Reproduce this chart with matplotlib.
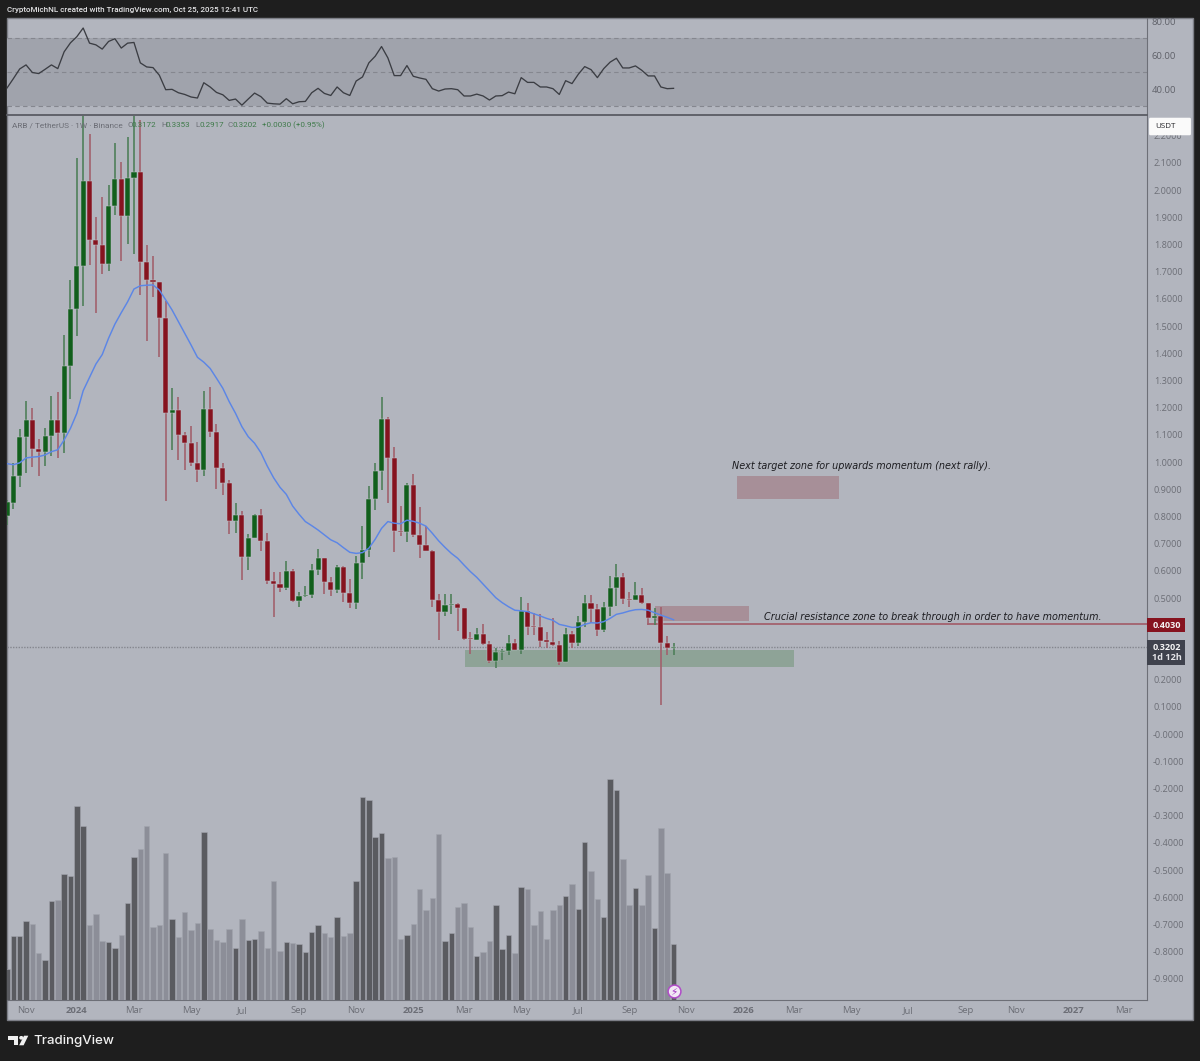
import matplotlib
matplotlib.use("Agg")
import matplotlib.pyplot as plt
from matplotlib.patches import Rectangle, FancyBboxPatch, Circle, Polygon

W, H = 1200, 1061

# weekly candles
opens = [.801, .850, .949, 1.091, 1.154, 1.047, 1.037, 1.096, 1.154, 1.105,
         1.354, 1.561, 1.721, 2.032, 1.816, 1.798, 1.729, 1.942, 2.040, 1.904,
         2.043, 2.067, 1.734, 1.670, 1.661, 1.528, 1.179, 1.190, 1.099, 1.070,
         .996, .972, 1.195, 1.111, .979, .923, .782, .804, .650, .722,
         .804, .711, .562, .551, .536, .599, .489, .507, .510, .602,
         .646, .559, .528, .614, .519, .483, .629, .675, .863, .968,
         1.157, 1.016, .746, .743, .917, .732, .696, .673, .493, .449,
         .474, .478, .463, .352, .347, .368, .331, .267, .301, .305,
         .336, .309, .452, .396, .392, .344, .340, .326, .265, .368,
         .333, .411, .483, .460, .381, .466, .537, .578, .495, .493,
         .512, .480, .428, .434, .335, .3172]
closes = [.853, .949, 1.091, 1.154, 1.047, 1.037, 1.096, 1.154, 1.105, 1.354,
          1.561, 1.721, 2.032, 1.816, 1.798, 1.729, 1.942, 2.040, 1.904, 2.043,
          2.067, 1.734, 1.670, 1.661, 1.528, 1.179, 1.190, 1.099, 1.070, .996,
          .972, 1.195, 1.111, .979, .923, .782, .804, .650, .722, .804,
          .711, .562, .551, .536, .599, .489, .507, .510, .602, .646,
          .559, .528, .614, .519, .483, .629, .675, .863, .968, 1.157,
          1.016, .746, .743, .917, .732, .696, .673, .493, .449, .474,
          .478, .463, .348, .348, .368, .331, .267, .301, .305, .336,
          .309, .452, .393, .392, .342, .339, .326, .265, .368, .333,
          .411, .483, .460, .381, .466, .537, .578, .495, .493, .512,
          .480, .428, .434, .335, .317, .3202]
highs = [.860, .997, 1.120, 1.224, 1.200, 1.083, 1.126, 1.244, 1.258, 1.466,
         1.669, 2.118, 2.272, 2.206, 1.900, 1.973, 2.018, 2.172, 2.102, 2.196,
         2.272, 2.257, 1.797, 1.757, 1.662, 1.593, 1.271, 1.238, 1.111, 1.132,
         1.072, 1.261, 1.276, 1.140, .997, .934, .848, .819, .735, .808,
         .827, .738, .597, .597, .636, .607, .523, .544, .624, .680,
         .647, .577, .621, .616, .569, .654, .765, .912, .997, 1.238,
         1.164, 1.054, .838, .924, .956, .835, .765, .678, .515, .514,
         .516, .480, .465, .374, .389, .403, .343, .316, .314, .363,
         .348, .505, .480, .444, .441, .374, .426, .343, .390, .380,
         .434, .511, .511, .478, .485, .581, .626, .591, .521, .558,
         .536, .483, .462, .466, .361, .3353]
lows = [.768, .828, .908, .961, .982, .947, .986, 1.023, 1.014, 1.034,
        1.233, 1.464, 1.574, 1.725, 1.547, 1.692, 1.702, 1.907, 1.740, 1.803,
        1.766, 1.614, 1.446, 1.608, 1.385, .855, 1.043, 1.006, .969, .986,
        .925, .950, 1.093, .901, .879, .736, .740, .566, .604, .721,
        .674, .553, .431, .521, .528, .484, .467, .503, .500, .585,
        .516, .506, .519, .484, .462, .460, .569, .650, .824, .897,
        .850, .669, .728, .706, .723, .647, .671, .467, .347, .435,
        .440, .380, .347, .295, .344, .328, .261, .243, .272, .292,
        .307, .294, .365, .364, .321, .317, .324, .254, .263, .315,
        .325, .392, .409, .361, .374, .434, .472, .479, .468, .492,
        .478, .401, .401, .105, .290, .2917]

# moving average on the price pane
ema = [.994, .990, .997, 1.015, 1.018, 1.020, 1.026, 1.038, 1.045, 1.081,
       1.124, 1.179, 1.262, 1.311, 1.360, 1.395, 1.455, 1.507, 1.549, 1.589,
       1.636, 1.648, 1.650, 1.651, 1.632, 1.596, 1.559, 1.516, 1.473, 1.430,
       1.385, 1.367, 1.344, 1.308, 1.271, 1.222, 1.179, 1.130, 1.093, 1.069,
       1.034, .985, .942, .907, .881, .838, .808, .781, .766, .750,
       .732, .714, .703, .685, .668, .664, .667, .683, .716, .756,
       .781, .775, .773, .786, .782, .775, .764, .738, .710, .686,
       .664, .646, .621, .597, .576, .551, .526, .501, .483, .468,
       .455, .453, .450, .442, .434, .425, .418, .403, .398, .392,
       .393, .403, .409, .408, .413, .425, .440, .445, .452, .457,
       .458, .455, .446, .437, .429, .420]

volumes = [30.7, 63.7, 63.7, 79, 75.7, 47, 40, 99, 99.7, 125.7,
           123.7, 193.3, 174, 74.3, 85.3, 59, 58, 52, 65, 97,
           142.3, 150.3, 174, 72.7, 75, 146.3, 80.3, 62.3, 87.7, 69.3,
           77, 168, 70.3, 59.3, 57.3, 70.3, 51.3, 81, 59.3, 61,
           69, 51.3, 119, 49, 57.3, 56.3, 55.7, 48, 67.3, 74.3,
           67, 63, 83, 63.7, 66.3, 118.3, 202.7, 200, 162.7, 166.7,
           141.7, 142.3, 60.3, 65, 75.7, 111, 89.7, 101.7, 166, 59,
           66.3, 93, 97, 73, 43.3, 48, 58.3, 94.3, 51, 64.3,
           46.7, 113, 110.3, 75, 88.3, 61, 89.7, 95, 103.7, 115.7,
           90.3, 157.3, 129, 100.3, 83, 220.7, 210, 141, 95, 111.7,
           95, 125, 72, 172, 126.3, 56]

rsi = [40.8, 46.3, 52.0, 54.4, 49.9, 49.3, 51.8, 54.4, 52.2, 62.1,
       67.4, 71.0, 76.1, 67.2, 66.2, 63.7, 68.2, 69.8, 64.3, 67.2,
       67.6, 55.6, 53.2, 52.8, 48.3, 39.8, 40.0, 38.0, 37.0, 35.5,
       34.9, 43.9, 41.4, 38.2, 36.8, 33.5, 34.3, 30.7, 34.3, 37.8,
       35.7, 31.9, 31.5, 31.3, 34.5, 31.5, 32.7, 32.9, 38.0, 40.6,
       37.6, 36.4, 41.4, 38.0, 36.4, 44.9, 47.3, 55.6, 59.5, 65.2,
       58.5, 48.1, 48.1, 54.0, 47.7, 46.7, 45.9, 40.4, 39.0, 40.2,
       40.4, 39.8, 36.1, 36.1, 37.2, 36.1, 33.7, 36.1, 36.3, 38.4,
       37.4, 46.9, 44.1, 44.1, 41.4, 41.4, 40.4, 37.0, 45.1, 43.4,
       48.9, 53.4, 51.6, 46.9, 52.2, 56.0, 58.3, 52.6, 52.6, 53.8,
       51.2, 47.9, 47.9, 41.4, 40.4, 40.6]

month_pos = [3, 11, 20, 29, 37, 46, 55, 64, 72, 81, 90, 98, 107, 116, 124, 133, 142, 151, 159, 168, 176]
month_labels = ["Nov", "2024", "Mar", "May", "Jul", "Sep", "Nov", "2025", "Mar", "May", "Jul",
                "Sep", "Nov", "2026", "Mar", "May", "Jul", "Sep", "Nov", "2027", "Mar"]
price_ticks = [2.2, 2.1, 2.0, 1.9, 1.8, 1.7, 1.6, 1.5, 1.4, 1.3, 1.2, 1.1, 1.0, .9, .8, .7, .6, .5,
               .2, .1, 0.0, -.1, -.2, -.3, -.4, -.5, -.6, -.7, -.8, -.9]
rsi_ticks = [80, 60, 40]

BG = "#1e1e1e"
PANEL = "#b2b5be"
UP = "#115f1c"
DOWN = "#86131f"
GREY_TXT = "#6c6e76"

plt.rcParams["font.family"] = ["Open Sans", "DejaVu Sans"]
plt.rcParams["font.size"] = 6.6

fig = plt.figure(figsize=(W / 100, H / 100), dpi=100, facecolor=BG)


def box(x0, y0, x1, y1):
    return [x0 / W, 1 - y1 / H, (x1 - x0) / W, (y1 - y0) / H]


def label(x, y, s, **kw):
    kw.setdefault("va", "center")
    return fig.text(x / W, 1 - y / H, s, **kw)


def rect(x0, y0, x1, y1, **kw):
    r = Rectangle((x0 / W, 1 - y1 / H), (x1 - x0) / W, (y1 - y0) / H, transform=fig.transFigure, **kw)
    fig.add_artist(r)
    return r


rect(7, 18, 1193, 1020, facecolor=PANEL, edgecolor="#7d7f87", linewidth=1, zorder=-2)

xs = list(range(len(opens)))
xlim = (0, 179.5)

# rsi pane
ax_rsi = fig.add_axes(box(7, 18, 1146.5, 114.5), facecolor="none")
ax_rsi.set_xlim(xlim)
ax_rsi.set_ylim(25.2, 82.0)
ax_rsi.axhspan(30, 70, color="#a0a3ac", lw=0, zorder=1)
for v in [70, 50, 30]:
    ax_rsi.axhline(v, color="#85878f", lw=0.8, ls=(0, (4, 3)), zorder=2)
ax_rsi.plot(xs, rsi, color="#3b3d43", lw=0.95, zorder=3)
ax_rsi.set_xticks([])
ax_rsi.yaxis.tick_right()
ax_rsi.set_yticks(rsi_ticks)
ax_rsi.set_yticklabels(["%.2f" % v for v in rsi_ticks], ha="center", color="#5f6169", fontsize=6.8)
ax_rsi.tick_params(axis="y", length=0, pad=12.5)
for s in ["top", "left", "bottom"]:
    ax_rsi.spines[s].set_visible(False)
ax_rsi.spines["right"].set_color("#6d6f77")

# price pane
ax = fig.add_axes(box(7, 114.5, 1146.5, 999.5), facecolor="none")
ax.set_xlim(xlim)
ax.set_ylim(-.9761, 2.2776)

# zones
ax.add_patch(Rectangle((115, .865), 16, .0835, facecolor="#a78f98", edgecolor="none", zorder=1))
ax.add_patch(Rectangle((102, .4165), 14.9, .054, facecolor="#a78f98", edgecolor="none", zorder=1))
ax.add_patch(Rectangle((72.2, .245), 51.8, .065, facecolor="#8ea397", edgecolor="none", zorder=1))
ax.axhline(.3202, color="#84868e", lw=1, ls=(0, (1, 1)), zorder=1.5)
ax.plot([101, xlim[1]], [.403, .403], color="#a1525f", lw=1.1, zorder=1.5)

# candles
colors = [UP if c >= o else DOWN for o, c in zip(opens, closes)]
wick_colors = ["#4f7f5a" if c == UP else "#a2616d" for c in colors]
bottoms = [min(o, c) for o, c in zip(opens, closes)]
heights = [max(abs(c - o), .004) for o, c in zip(opens, closes)]
ax.vlines(xs, lows, highs, colors=wick_colors, lw=1.2, zorder=2)
ax.bar(xs, heights, bottom=bottoms, width=.8, color=colors, edgecolor="#bfc1c8", linewidth=.35, zorder=3)
ax.plot(xs, ema, color="#5c86e6", lw=1.05, zorder=4)

ax.yaxis.tick_right()
ax.set_yticks(price_ticks)
ax.set_yticklabels(["-0.0000" if v == 0 else "%.4f" % v for v in price_ticks], ha="center", color=GREY_TXT)
ax.tick_params(axis="y", length=0, pad=15.5)
ax.set_xticks(month_pos)
ax.set_xticklabels(month_labels, color=GREY_TXT, fontsize=6.8)
for t in ax.get_xticklabels():
    if t.get_text().isdigit():
        t.set_fontweight("bold")
ax.tick_params(axis="x", length=0, pad=4.5)
ax.spines["left"].set_visible(False)
ax.spines["top"].set_color("#5a5c64")
ax.spines["top"].set_linewidth(1.3)
ax.spines["right"].set_color("#6d6f77")
ax.spines["bottom"].set_color("#6d6f77")

# volume overlay, same frame as the price pane
ax_vol = fig.add_axes(box(7, 114.5, 1146.5, 999.5), facecolor="none")
ax_vol.set_xlim(xlim)
ax_vol.set_ylim(0, 885)
ax_vol.axis("off")
vol_colors = ["#5a5b60" if c == UP else "#8c8e98" for c in colors]
ax_vol.bar(xs, volumes, width=.86, color=vol_colors, edgecolor="#a3a5ae", linewidth=.4)
ax_vol.scatter([xs[-1]], [8.5], s=85, facecolor="#f2e8f5", edgecolor="#b04bc8", linewidth=1.1, zorder=5, clip_on=False)
ax_vol.text(xs[-1], 8.2, "\u26a1", ha="center", va="center", color="#a030c0", fontsize=7.5,
            family="DejaVu Sans", zorder=6)

# header and legend
small = dict(family=["Roboto", "DejaVu Sans"], fontsize=5.8)
label(7, 10, "CryptoMichNL created with TradingView.com, Oct 25, 2025 12:41 UTC", color="#e4e4e6",
      family=["Roboto", "DejaVu Sans"], fontsize=5.75, fontweight="medium")
label(12, 125, "ARB / TetherUS \u00b7 1W \u00b7 Binance", color=GREY_TXT, family=["Roboto", "DejaVu Sans"], fontsize=5.95)
green_txt = "#3f7a4a"
for x, name, val in [(127, "O", "0.3172"), (161, "H", "0.3353"), (195, "L", "0.2917"), (228, "C", "0.3202")]:
    label(x, 125, name, color=GREY_TXT, **small)
    label(x + 29.5, 125, val, color=green_txt, ha="right", **small)
label(262, 125, "+0.0030 (+0.95%)", color=green_txt, **small)

# annotations
note_kw = dict(color="#1c1c20", style="italic", family=["DejaVu Sans"], fontsize=6.95)
label(732, 466, "Next target zone for upwards momentum (next rally).", **note_kw)
label(764, 617, "Crucial resistance zone to break through in order to have momentum.", **note_kw)

# price labels on the axis
rect(1147, 617.7, 1184.5, 631.7, facecolor=DOWN, edgecolor="none", zorder=5)
label(1166.5, 625, "0.4030", color="#f4f4f4", ha="center", fontweight="bold", zorder=6)
rect(1147, 640, 1184.5, 664.7, facecolor="#3f424d", edgecolor="none", zorder=5)
label(1166.5, 647.5, "0.3202", color="#f4f4f4", ha="center", fontweight="bold", zorder=6)
label(1166.5, 658, "1d 12h", color="#e4e4e8", ha="center", fontweight="bold", zorder=6)
usdt = FancyBboxPatch((1150.5 / W, 1 - 134 / H), 39 / W, 15 / H, boxstyle="round,pad=0.0012",
                      transform=fig.transFigure, facecolor="#fafafa", edgecolor="none", zorder=5)
fig.add_artist(usdt)
label(1155, 127, "USDT", color="#26262a", fontsize=5.8, zorder=6)

# footer logo
rect(8, 1035.7, 18, 1040, facecolor="#f0f0f0", edgecolor="none", zorder=5)
rect(13.5, 1035.7, 18, 1045.3, facecolor="#f0f0f0", edgecolor="none", zorder=5)
fig.add_artist(Circle((21.3 / W, 1 - 1037.8 / H), 2.1 / W, transform=fig.transFigure,
                      facecolor="#f0f0f0", edgecolor="none", zorder=5))
slash = [(24 / W, 1 - 1035.7 / H), (28.3 / W, 1 - 1035.7 / H), (23.6 / W, 1 - 1045.3 / H), (19.2 / W, 1 - 1045.3 / H)]
fig.add_artist(Polygon(slash, closed=True, transform=fig.transFigure, facecolor="#f0f0f0", edgecolor="none", zorder=5))
label(33, 1041, "TradingView", color="#f0f0f0", fontsize=9.6, family=["Inter", "DejaVu Sans"], fontweight="medium")

fig.savefig("out.png", dpi=100, facecolor=BG)
